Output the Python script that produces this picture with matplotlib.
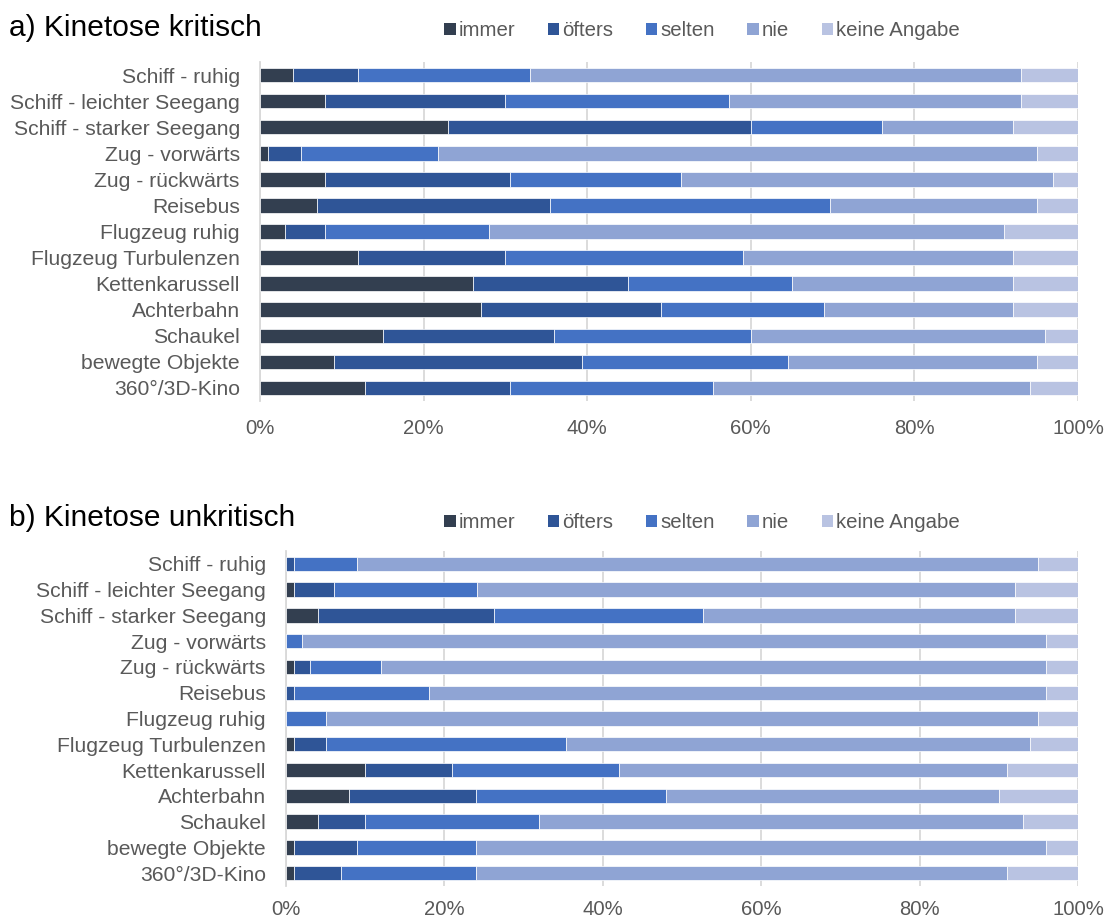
import matplotlib
matplotlib.use("Agg")
import matplotlib.pyplot as plt
from matplotlib.patches import Patch
from matplotlib.ticker import PercentFormatter

plt.rcParams["font.family"] = ["Liberation Sans", "DejaVu Sans"]

categories = [
    "Schiff - ruhig",
    "Schiff - leichter Seegang",
    "Schiff - starker Seegang",
    "Zug - vorwärts",
    "Zug - rückwärts",
    "Reisebus",
    "Flugzeug ruhig",
    "Flugzeug Turbulenzen",
    "Kettenkarussell",
    "Achterbahn",
    "Schaukel",
    "bewegte Objekte",
    "360°/3D-Kino",
]
answers = ["immer", "öfters", "selten", "nie", "keine Angabe"]

# a) Kinetose kritisch (percent)
immer_a = [4, 8, 23, 1, 8, 7, 3, 12, 26, 27, 15, 9, 12.8]
oefters_a = [8, 22, 37, 4, 22.6, 28.4, 5, 18, 19, 22, 21, 30.4, 17.8]
selten_a = [21, 27.3, 16, 16.8, 20.9, 34.3, 20, 29, 20, 20, 24, 25.1, 24.8]
nie_a = [60, 35.7, 16, 73.2, 45.5, 25.3, 63, 33, 27, 23, 36, 30.5, 38.7]
keine_a = [7, 7, 8, 5, 3, 5, 9, 8, 8, 8, 4, 5, 5.9]

# b) Kinetose unkritisch (percent)
immer_b = [0, 1, 4, 0, 1, 0, 0, 1, 10, 8, 4, 1, 1]
oefters_b = [1, 5, 22.3, 0, 2, 1, 0, 4, 11, 16, 6, 8, 6]
selten_b = [8, 18.1, 26.3, 2, 9, 17, 5, 30.3, 21, 24, 22, 15, 17]
nie_b = [86, 67.9, 39.4, 94, 84, 78, 90, 58.7, 49, 42, 61, 72, 67]
keine_b = [5, 8, 8, 4, 4, 4, 5, 6, 9, 10, 7, 4, 9]

colors = ["#333f50", "#2f5597", "#4472c4", "#8fa4d4", "#b9c3e2"]
text_color = "#595959"
grid_color = "#d9d9d9"
fs_y = 15.2
fs_x = 14.6
fs_leg = 14.7


def draw_panel(ax, series, title, title_y, legend_y, xpad):
    y = list(range(len(categories)))
    left = [0] * len(categories)
    for vals, color in zip(series, colors):
        ax.barh(y, vals, left=left, height=0.56, color=color,
                edgecolor="white", linewidth=0.5, zorder=3)
        left = [l + v for l, v in zip(left, vals)]

    ax.set_xlim(0, 100)
    ax.set_ylim(len(categories) - 0.5, -0.5)
    ax.set_yticks(y)
    ax.set_yticklabels(categories, fontsize=fs_y, color=text_color)
    ax.set_xticks([0, 20, 40, 60, 80, 100])
    ax.xaxis.set_major_formatter(PercentFormatter(decimals=0))
    ax.tick_params(axis="x", labelsize=fs_x, colors=text_color, length=0, pad=xpad)
    ax.tick_params(axis="y", length=0, pad=14.5)
    ax.grid(axis="x", color=grid_color, linewidth=1.3, zorder=0)
    for s in ["top", "right", "bottom"]:
        ax.spines[s].set_visible(False)
    ax.spines["left"].set_color(grid_color)
    ax.spines["left"].set_linewidth(1.3)

    fig.text(9 / 1108, title_y, title, fontsize=21.5, color="black",
             ha="left", va="center")

    handles = [Patch(facecolor=c, edgecolor="none") for c in colors]
    fig.legend(handles, answers, loc="center", ncol=5,
               bbox_to_anchor=(702 / 1108, legend_y), frameon=False,
               fontsize=fs_leg, handlelength=0.55, handleheight=0.55,
               handletextpad=0.15, columnspacing=1.6, labelcolor=text_color)


fig = plt.figure(figsize=(11.08, 9.19), dpi=100)
W, H = 1108, 919

ax_a = fig.add_axes([260 / W, 1 - 401 / H, 818 / W, 339 / H])
draw_panel(ax_a, [immer_a, oefters_a, selten_a, nie_a, keine_a],
           "a) Kinetose kritisch", 1 - 28 / H, 1 - 31 / H, 13)

ax_b = fig.add_axes([286 / W, 1 - 886 / H, 792 / W, 335 / H])
draw_panel(ax_b, [immer_b, oefters_b, selten_b, nie_b, keine_b],
           "b) Kinetose unkritisch", 1 - 518 / H, 1 - 523 / H, 10)

fig.savefig("out.png", dpi=100)
